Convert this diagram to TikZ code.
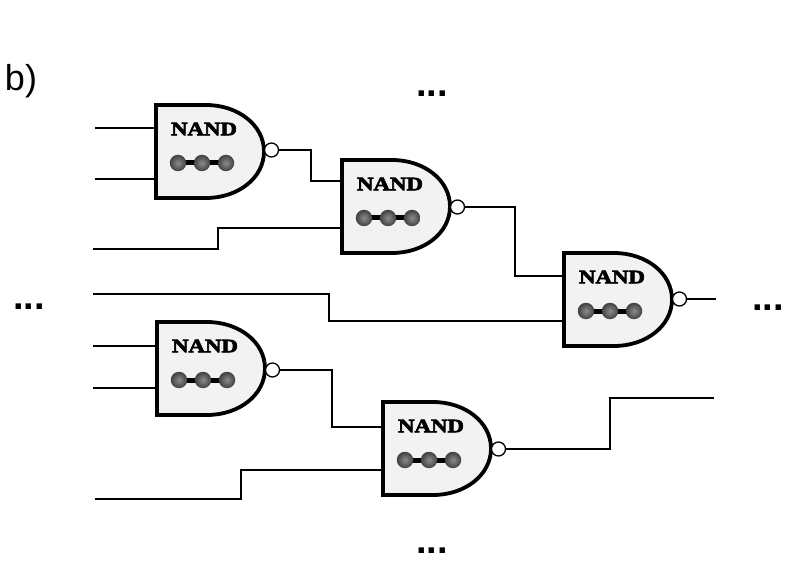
\documentclass[tikz,border=0pt]{standalone}
\usepackage{fontspec}
\setmainfont{Liberation Sans}
\newfontfamily\nandfont[FakeStretch=1.2,FakeBold=3.5]{Liberation Serif}
\begin{document}
\begin{tikzpicture}[x=1pt,y=-1pt,
 wire/.style={line width=2.6pt,line join=miter},
 body/.style={line width=3.8pt,fill=gatefill,line join=miter},
 bubble/.style={circle,draw,line width=1.3pt,fill=white,inner sep=0,minimum size=14pt},
 dots/.style={font=\bfseries\fontsize{38}{38}\selectfont,inner sep=0,anchor=base},
 ball/.style={circle,inner sep=0,minimum size=16.5pt,inner color=black!45,outer color=black!75},
 nandlab/.style={font=\nandfont\bfseries\fontsize{19}{19}\selectfont,inner sep=0},
 pin/.style={inner sep=0,minimum size=0}]
\definecolor{gatefill}{gray}{0.95}
\useasboundingbox (0,0) rectangle (809,572);
\newcommand{\gate}[4]{%
 \draw[body] (#2,#3) -- (#2+50,#3) .. controls (#2+82,#3) and (#2+108,#3+20) .. (#2+108,#3+46.5)
   .. controls (#2+108,#3+73) and (#2+82,#3+93) .. (#2+50,#3+93) -- (#2,#3+93) -- cycle;
 \node[bubble] (#1o) at (#2+115.5,#3+#4) {};
 \node[nandlab] (#1t) at (#2+48,#3+24) {NAND};
 \draw[line width=5pt] (#2+22,#3+58) -- (#2+70,#3+58);
 \node[ball] (#1a) at (#2+22,#3+58) {};
 \node[ball] (#1b) at (#2+46,#3+58) {};
 \node[ball] (#1c) at (#2+70,#3+58) {};
}
\gate{A}{156}{105}{45}
\gate{B}{342}{160}{47}
\gate{C}{564}{253}{46}
\gate{D}{157}{322}{48}
\gate{E}{383}{402}{47}
\node[font=\fontsize{36}{36}\selectfont,inner sep=0,anchor=base] (lab) at (21,91) {b)};
\node[dots] (d1) at (432,97) {...};
\node[dots] (d2) at (29,309) {...};
\node[dots] (d3) at (768,311) {...};
\node[dots] (d4) at (432,553) {...};
\coordinate (i1) at (95,128); \coordinate (i2) at (95,179);
\coordinate (i3) at (93,249); \coordinate (i4) at (93,294);
\coordinate (i5) at (93,346); \coordinate (i6) at (93,388);
\coordinate (i7) at (95,499); \coordinate (o1) at (716,299);
\coordinate (o2) at (714,398);
\draw[wire] (i1) -- (156,128);
\draw[wire] (i2) -- (156,179);
\draw[wire] (i3) -- (218,249) -- (218,228) -- (342,228);
\draw[wire] (Ao.east) -- (311,150) -- (311,181) -- (342,181);
\draw[wire] (Bo.east) -- (515,207) -- (515,276) -- (564,276);
\draw[wire] (i4) -- (329,294) -- (329,321) -- (564,321);
\draw[wire] (i5) -- (157,346);
\draw[wire] (i6) -- (157,388);
\draw[wire] (Do.east) -- (332,370) -- (332,427) -- (383,427);
\draw[wire] (i7) -- (241,499) -- (241,470) -- (383,470);
\draw[wire] (Co.east) -- (o1);
\draw[wire] (Eo.east) -- (610,449) -- (610,398) -- (o2);
\end{tikzpicture}
\end{document}
